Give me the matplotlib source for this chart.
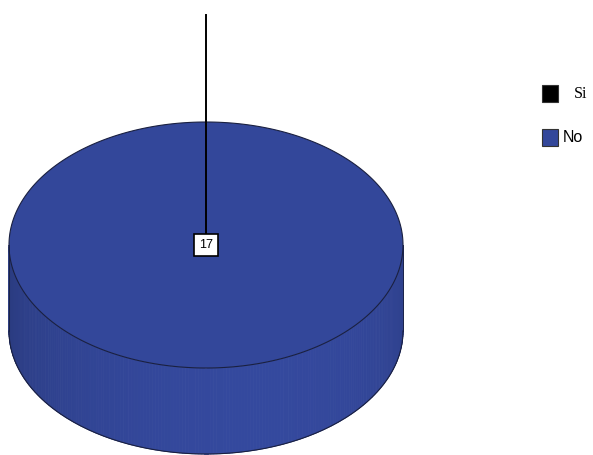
import numpy as np
import matplotlib.pyplot as plt
from matplotlib.patches import Polygon, Rectangle

labels = ['Si', 'No']
values = [0, 17]
colors = ['#000000', '#33479a']

fig = plt.figure(figsize=(5.93, 4.55), dpi=100)
ax = fig.add_axes([0, 0, 1, 1])
ax.set_xlim(0, 593)
ax.set_ylim(455, 0)
ax.axis('off')

# cylinder geometry in pixels
cx, cy = 206, 245
rx, ry = 197, 123
depth = 86

total = sum(values)
start = -np.pi / 2
wedges = []
for lab, v, c in zip(labels, values, colors):
    span = 2 * np.pi * v / total
    wedges.append((lab, v, c, start, start + span))
    start += span


def shade(col, f):
    rgb = np.array(plt.matplotlib.colors.to_rgb(col))
    return tuple(np.clip(rgb * f, 0, 1))


# side of the cylinder (front half only)
for lab, v, c, a0, a1 in wedges:
    if v == 0:
        continue
    lo, hi = max(a0, 0), min(a1, np.pi)
    ts = np.linspace(lo, hi, 200)
    for t1, t2 in zip(ts[:-1], ts[1:]):
        tm = (t1 + t2) / 2
        f = 0.86 + 0.16 * np.sin(tm) + 0.04 * np.cos(tm)
        pts = [(cx + rx * np.cos(t1), cy + ry * np.sin(t1)),
               (cx + rx * np.cos(t2), cy + ry * np.sin(t2)),
               (cx + rx * np.cos(t2), cy + ry * np.sin(t2) + depth),
               (cx + rx * np.cos(t1), cy + ry * np.sin(t1) + depth)]
        ax.add_patch(Polygon(pts, closed=True, fc=shade(c, f), ec=shade(c, f), lw=0.6))

# outline of side
tb = np.linspace(0, np.pi, 200)
ax.plot(cx + rx * np.cos(tb), cy + ry * np.sin(tb) + depth, color='#1a2040', lw=0.8)
ax.plot([cx + rx, cx + rx], [cy, cy + depth], color='#1a2040', lw=0.6)
ax.plot([cx - rx, cx - rx], [cy, cy + depth], color='#1a2040', lw=0.6)

# top face
for lab, v, c, a0, a1 in wedges:
    if v == 0:
        continue
    ts = np.linspace(a0, a1, 300)
    pts = [(cx + rx * np.cos(t), cy + ry * np.sin(t)) for t in ts]
    if v != total:
        pts = [(cx, cy)] + pts
    ax.add_patch(Polygon(pts, closed=True, fc=c, ec='#1a2040', lw=0.8))

# labels with leader line
for lab, v, c, a0, a1 in wedges:
    if v == 0:
        continue
    if v == total:
        lx, ly = cx, cy
    else:
        am = (a0 + a1) / 2
        lx, ly = cx + 0.5 * rx * np.cos(am), cy + 0.5 * ry * np.sin(am)
    ax.plot([lx, lx], [15, ly], color='black', lw=1.4, zorder=5)
    ax.text(lx, ly, str(v), ha='center', va='center', fontsize=9,
            family='Liberation Sans', zorder=6,
            bbox=dict(boxstyle='square,pad=0.4', fc='white', ec='black', lw=1.2))

# legend
fams = ['Liberation Serif', 'Liberation Sans']
for i, (lab, c) in enumerate(zip(labels, colors)):
    y = 94 + i * 44
    ax.add_patch(Rectangle((542, y - 9), 16, 17, fc=c, ec='#333333', lw=0.8))
    ax.text(563 + (11 if i == 0 else 0), y, lab, ha='left', va='center',
            fontsize=11.5, family=fams[i])

fig.savefig('out.png', dpi=100)
